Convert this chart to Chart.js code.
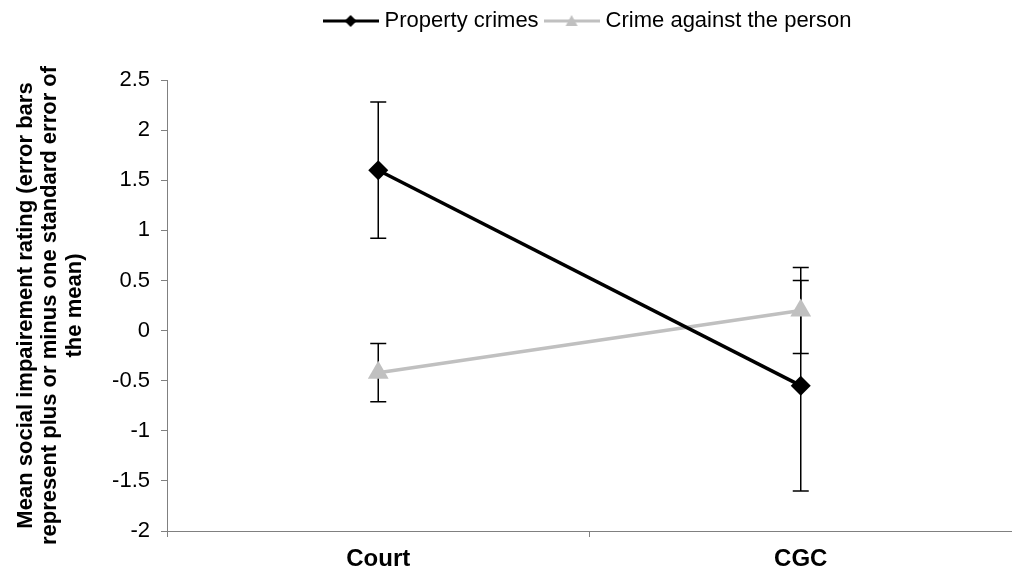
<!DOCTYPE html>
<html>
<head>
<meta charset="utf-8">
<title>Social impairment rating</title>
<script src="https://cdn.jsdelivr.net/npm/chart.js@4.4.1/dist/chart.umd.min.js"></script>
<style>
    html, body { margin: 0; padding: 0; background: #fff; overflow: hidden; }
    #wrap { width: 1024px; height: 585px; }
</style>
</head>
<body>
<div id="wrap"><canvas id="impairment_chart"></canvas></div>
<script>
// Categories
var labels_group = ['Court', 'CGC'];

// Means for each crime type
var property_list = [1.6, -0.55];
var person_list = [-0.42, 0.2];

// Standard errors (plus or minus)
var property_err = [0.68, 1.05];
var person_err = [0.29, 0.43];

// Y axis ticks
var y_min = -2;
var y_max = 2.5;
var y_step = 0.5;

var font_family = "'Liberation Sans', Arial, sans-serif";

// Little pictures for the legend: line with the marker on it
function legend_icon(color, style){
    var c = document.createElement('canvas');
    c.width = 56;
    c.height = 22;
    var g = c.getContext('2d');
    g.strokeStyle = color;
    g.fillStyle = color;
    g.lineWidth = 3;
    g.beginPath();
    g.moveTo(0, 11);
    g.lineTo(56, 11);
    g.stroke();
    g.beginPath();
    if(style == 'diamond'){
        g.moveTo(28, 5); g.lineTo(34, 11); g.lineTo(28, 17); g.lineTo(22, 11);
    } else {
        g.moveTo(28, 5); g.lineTo(34, 16); g.lineTo(22, 16);
    }
    g.closePath();
    g.fill();
    return c;
}

var errors_by_dataset = [property_err, person_err];

// Error bars, drawn under the lines and markers
var error_bars = {
    id: 'error_bars',
    beforeDatasetsDraw: function(chart){
        var ctx = chart.ctx;
        var x_scale = chart.scales.x;
        var y_scale = chart.scales.y;
        ctx.save();
        ctx.strokeStyle = '#000';
        ctx.lineWidth = 1.5;
        for(var d = 0; d < chart.data.datasets.length; d++){
            var values = chart.data.datasets[d].data;
            var errs = errors_by_dataset[d];
            for(var i = 0; i < values.length; i++){
                var x = x_scale.getPixelForValue(i);
                var top = y_scale.getPixelForValue(values[i] + errs[i]);
                var bottom = y_scale.getPixelForValue(values[i] - errs[i]);
                ctx.beginPath();
                ctx.moveTo(x, top); ctx.lineTo(x, bottom);
                ctx.moveTo(x - 8, top); ctx.lineTo(x + 8, top);
                ctx.moveTo(x - 8, bottom); ctx.lineTo(x + 8, bottom);
                ctx.stroke();
            }
        }
        ctx.restore();
    }
};

// Extra room below the legend
var legend_margin = {
    id: 'legend_margin',
    beforeInit: function(chart){
        var fit = chart.legend.fit;
        chart.legend.fit = function(){
            fit.bind(chart.legend)();
            this.height += 38;
        };
    }
};

var icons = [legend_icon('#000', 'diamond'), legend_icon('#c0c0c0', 'triangle')];

var ctx = document.getElementById('impairment_chart');
var impairment_chart = new Chart(ctx, {
    type: 'line',
    data: {
        labels: labels_group,
        datasets: [{
            label: 'Property crimes',
            data: property_list,
            borderColor: '#000',
            backgroundColor: '#000',
            borderWidth: 3.5,
            pointStyle: 'rectRot',
            pointRadius: 10,
            pointBorderWidth: 0,
            pointBackgroundColor: '#000'
        }, {
            label: 'Crime against the person',
            data: person_list,
            borderColor: '#c0c0c0',
            backgroundColor: '#c0c0c0',
            borderWidth: 3.5,
            pointStyle: 'triangle',
            pointRadius: 12,
            pointBorderWidth: 0,
            pointBackgroundColor: '#c0c0c0'
        }]
    },
    options: {
        responsive: true,
        maintainAspectRatio: false,
        animation: false,
        layout: { padding: { top: 0, right: 0, bottom: 0, left: 0 } },
        plugins: {
            tooltip: { enabled: false },
            legend: {
                position: 'top',
                fullSize: false,
                labels: {
                    usePointStyle: true,
                    pointStyleWidth: 46,
                    padding: 10,
                    color: '#000',
                    font: { family: font_family, size: 22 },
                    generateLabels: function(chart){
                        return chart.data.datasets.map(function(ds, i){
                            return {
                                text: ds.label,
                                pointStyle: icons[i],
                                fillStyle: ds.borderColor,
                                strokeStyle: ds.borderColor,
                                lineWidth: 0,
                                fontColor: '#000',
                                datasetIndex: i
                            };
                        });
                    }
                }
            }
        },
        scales: {
            x: {
                offset: true,
                grid: { offset: true, drawOnChartArea: false, tickLength: 6, color: '#808080' },
                border: { color: '#808080', width: 1 },
                ticks: {
                    color: '#000',
                    padding: 8,
                    font: { family: font_family, size: 24, weight: 'bold' }
                },
                afterFit: function(scale){ scale.height = 54; }
            },
            y: {
                min: y_min,
                max: y_max,
                grid: { drawOnChartArea: false, tickLength: 6, color: '#808080' },
                border: { color: '#808080', width: 1 },
                ticks: {
                    stepSize: y_step,
                    color: '#000',
                    padding: 11,
                    font: { family: font_family, size: 22 },
                    callback: function(value){ return String(value); }
                },
                title: {
                    display: true,
                    text: ['Mean social impairement rating (error bars',
                           'represent plus or minus one standard error of',
                           'the mean)'],
                    color: '#000',
                    padding: { top: 14, bottom: 0 },
                    font: { family: font_family, size: 22, weight: 'bold', lineHeight: 1.1 }
                },
                afterFit: function(scale){ scale.width = 167; }
            }
        }
    },
    plugins: [error_bars, legend_margin]
});
</script>
</body>
</html>
